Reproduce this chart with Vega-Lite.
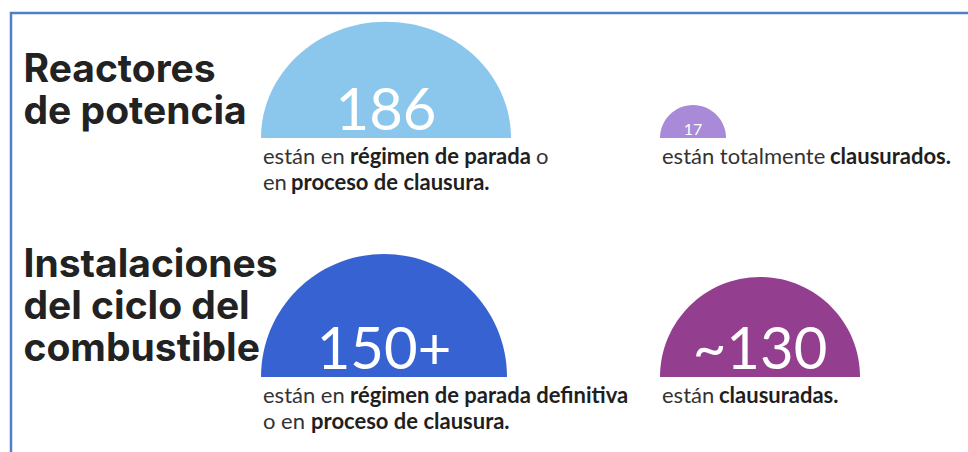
{
  "$schema": "https://vega.github.io/schema/vega-lite/v6.json",
  "width": 957,
  "height": 439,
  "autosize": {"type": "none"},
  "padding": {"left": 11, "top": 13, "right": 0, "bottom": 0},
  "background": "white",
  "config": {
    "view": {"stroke": "#4f81c7", "strokeWidth": 2.5, "strokeDash": [957, 1396]},
    "font": "Lato"
  },
  "datasets": {
    "circles": [
      {"group": "Reactores de potencia", "status": "En régimen de parada o en proceso de clausura", "value": 186, "label": "186"},
      {"group": "Reactores de potencia", "status": "Clausurados", "value": 17, "label": "17"},
      {"group": "Instalaciones del ciclo del combustible", "status": "En régimen de parada o en proceso de clausura", "value": 150, "label": "150+"},
      {"group": "Instalaciones del ciclo del combustible", "status": "Clausurados", "value": 130, "label": "~130"}
    ],
    "lines": [
      {"group": "Reactores de potencia", "status": "En régimen de parada o en proceso de clausura", "line": 1, "pre": "están en ", "bold": "régimen de parada", "post": "o"},
      {"group": "Reactores de potencia", "status": "En régimen de parada o en proceso de clausura", "line": 2, "pre": "en ", "bold": "proceso de clausura.", "post": ""},
      {"group": "Reactores de potencia", "status": "Clausurados", "line": 1, "pre": "están totalmente ", "bold": "clausurados.", "post": ""},
      {"group": "Instalaciones del ciclo del combustible", "status": "En régimen de parada o en proceso de clausura", "line": 1, "pre": "están en ", "bold": "régimen de parada definitiva", "post": ""},
      {"group": "Instalaciones del ciclo del combustible", "status": "En régimen de parada o en proceso de clausura", "line": 2, "pre": "o en ", "bold": "proceso de clausura.", "post": ""},
      {"group": "Instalaciones del ciclo del combustible", "status": "Clausurados", "line": 1, "pre": "están ", "bold": "clausuradas.", "post": ""}
    ]
  },
  "encoding": {
    "x": {
      "field": "status", "type": "nominal",
      "scale": {"type": "point", "domain": ["En régimen de parada o en proceso de clausura", "Clausurados"], "range": [250, 649], "padding": 0},
      "axis": null
    },
    "y": {
      "field": "group", "type": "nominal",
      "scale": {"type": "point", "domain": ["Reactores de potencia", "Instalaciones del ciclo del combustible"], "range": [125, 364], "padding": 0},
      "axis": {
        "title": null, "domain": false, "ticks": false, "tickSize": 0, "grid": false,
        "labelAlign": "left", "labelPadding": -12, "labelBaseline": "alphabetic",
        "labelOffset": {"condition": {"test": "datum.label == 'Reactores de potencia'", "value": -57}, "value": -101},
        "labelFont": "Inter", "labelFontWeight": "bold", "labelFontSize": 39, "labelLineHeight": 42,
        "labelColor": "#222222", "labelLimit": 0, "minExtent": 0,
        "labelExpr": "datum.label == 'Reactores de potencia' ? ['Reactores', 'de potencia'] : ['Instalaciones', 'del ciclo del', 'combustible']"
      }
    }
  },
  "layer": [
    {
      "data": {"name": "circles"},
      "mark": {"type": "point", "filled": true, "opacity": 1, "strokeWidth": 0},
      "encoding": {
        "xOffset": {"field": "value", "type": "quantitative", "scale": {"domain": [17, 130, 150, 186], "range": [33, 100, 123, 125]}},
        "size": {"field": "value", "type": "quantitative", "scale": {"domain": [17, 130, 150, 186], "range": [4356, 40000, 60516, 62500]}, "legend": null},
        "shape": {"field": "label", "type": "nominal", "scale": {"domain": ["186", "17", "150+", "~130"], "range": ["M-1 0A1 0.93 0 0 1 1 0Z", "M-1 0A1 1 0 0 1 1 0Z", "M-1 0A1 1 0 0 1 1 0Z", "M-1 0A1 1 0 0 1 1 0Z"]}, "legend": null},
        "color": {"field": "label", "type": "nominal", "scale": {"domain": ["186", "17", "150+", "~130"], "range": ["#8BC7EC", "#A88AD8", "#3763D2", "#933E8F"]}, "legend": null}
      }
    },
    {
      "data": {"name": "circles"},
      "transform": [{"filter": "datum.value >= 100"}],
      "mark": {"type": "text", "font": "Lato", "fontSize": 58, "color": "white", "align": "center", "baseline": "alphabetic", "dy": -8},
      "encoding": {
        "xOffset": {"field": "value", "type": "quantitative", "scale": {"domain": [17, 130, 150, 186], "range": [33, 100, 123, 125]}},
        "text": {"field": "label"}
      }
    },
    {
      "data": {"name": "circles"},
      "transform": [{"filter": "datum.value < 100"}],
      "mark": {"type": "text", "font": "Lato", "fontSize": 16, "color": "white", "align": "center", "baseline": "alphabetic", "dy": -3},
      "encoding": {
        "xOffset": {"field": "value", "type": "quantitative", "scale": {"domain": [17, 130, 150, 186], "range": [33, 100, 123, 125]}},
        "text": {"field": "label"}
      }
    },
    {
      "data": {"name": "lines"},
      "encoding": {
        "yOffset": {"field": "line", "type": "quantitative", "scale": {"domain": [1, 2], "range": [26, 52]}}
      },
      "layer": [
        {"mark": {"type": "text", "font": "Lato", "fontSize": 22, "color": "#333333", "align": "left", "baseline": "alphabetic", "dx": 2}, "encoding": {"text": {"field": "pre"}}},
        {"transform": [{"filter": "datum.pre == 'están en '"}], "mark": {"type": "text", "font": "Lato", "fontWeight": "bold", "fontSize": 22, "color": "#1f1f1f", "align": "left", "baseline": "alphabetic", "dx": 89}, "encoding": {"text": {"field": "bold"}}},
        {"transform": [{"filter": "datum.pre == 'en '"}], "mark": {"type": "text", "font": "Lato", "fontWeight": "bold", "fontSize": 22, "color": "#1f1f1f", "align": "left", "baseline": "alphabetic", "dx": 30}, "encoding": {"text": {"field": "bold"}}},
        {"transform": [{"filter": "datum.pre == 'o en '"}], "mark": {"type": "text", "font": "Lato", "fontWeight": "bold", "fontSize": 22, "color": "#1f1f1f", "align": "left", "baseline": "alphabetic", "dx": 50}, "encoding": {"text": {"field": "bold"}}},
        {"transform": [{"filter": "datum.pre == 'están totalmente '"}], "mark": {"type": "text", "font": "Lato", "fontWeight": "bold", "fontSize": 22, "color": "#1f1f1f", "align": "left", "baseline": "alphabetic", "dx": 170}, "encoding": {"text": {"field": "bold"}}},
        {"transform": [{"filter": "datum.pre == 'están '"}], "mark": {"type": "text", "font": "Lato", "fontWeight": "bold", "fontSize": 22, "color": "#1f1f1f", "align": "left", "baseline": "alphabetic", "dx": 59}, "encoding": {"text": {"field": "bold"}}},
        {"transform": [{"filter": "datum.post != ''"}], "mark": {"type": "text", "font": "Lato", "fontSize": 22, "color": "#333333", "align": "left", "baseline": "alphabetic", "dx": 275}, "encoding": {"text": {"field": "post"}}}
      ]
    }
  ]
}
